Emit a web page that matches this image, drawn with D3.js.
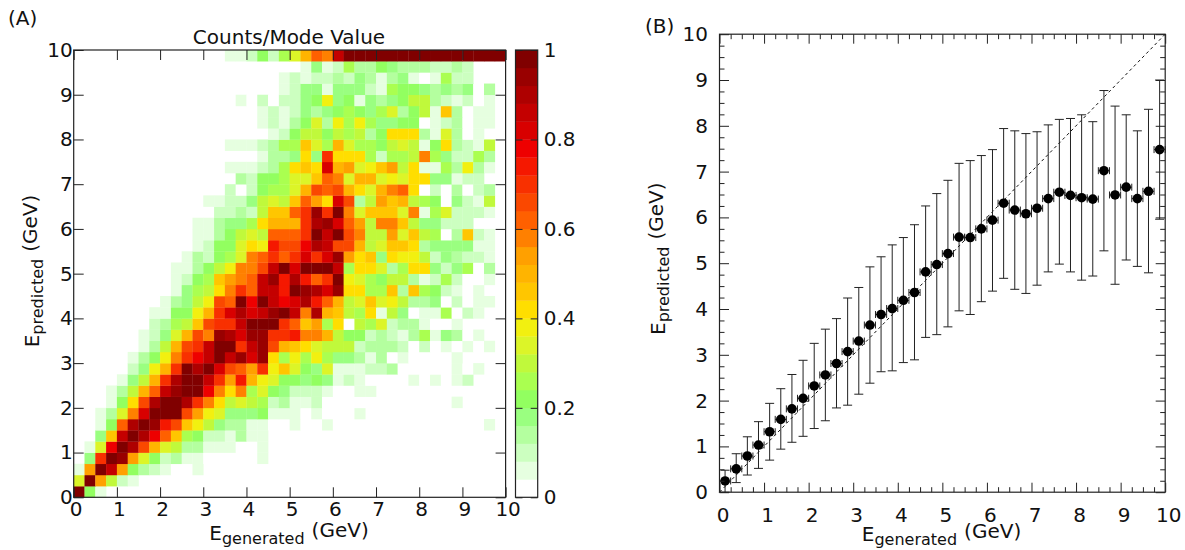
<!DOCTYPE html>
<html>
<head>
<meta charset="utf-8">
<script src="https://d3js.org/d3.v7.min.js"></script>
<style>
  body { margin: 0; background: #fff; }
  text { font-family: "DejaVu Sans", sans-serif; fill: #111; }
</style>
</head>
<body>
<div id="chart"></div>
<script>
// Panel A: counts / mode value in percent, one row per predicted-energy bin (bottom row first).
// A row starts at column firstBin[row]; anything outside the list is empty.
var firstBin = [0,0,0,1,1,2,2,2,3,3,4,5,5,6,6,7,7,8,9,9,9,10,11,11,11,13,12,14,15,14,17,14,18,17,17,15,19,19,21,14];
var ratioRows = [
  [98,22,6],
  [34,98,54,30,10,6],
  [6,54,98,86,54,22,14,10,6,0,0,6],
  [18,70,98,94,54,34,22,10,14,6,6,0,0,0,0,0,6],
  [6,34,78,98,90,66,50,34,30,14,14,6,6,6,0,0,6],
  [18,46,86,98,90,78,62,46,26,22,10,10,6,14,6,6],
  [6,22,62,90,98,94,74,66,46,38,30,18,14,14,6,6,0,0,6,0,0,6,0,0,0,0,0,0,0,0,0,0,0,0,0,0,6],
  [6,14,34,58,82,98,98,98,66,54,38,34,18,18,18,22,6,6,6,0,6,0,0,0,6],
  [6,22,42,66,90,98,98,90,70,58,42,30,34,30,26,10,14,6,6,10,0,0,0,0,0,0,0,0,0,0,0,0,6],
  [6,14,30,50,62,86,94,98,98,78,58,42,58,26,34,22,18,10,10,10,6,0,0,6,6],
  [6,18,30,50,70,90,98,98,86,70,54,74,50,38,34,22,22,18,22,18,6,10,6,0,0,0,0,6,0,6,0,6,10],
  [10,18,38,50,70,98,90,98,82,66,62,54,70,38,46,34,22,18,34,6,6,6,10,10,14,0,0,0,0,0,6,0,6],
  [6,14,22,38,58,70,78,86,98,86,94,82,94,42,26,38,26,38,26,18,18,14,6,14,0,6,0,0,0,0,6],
  [6,14,30,50,66,70,86,98,98,70,86,94,66,50,46,42,34,30,30,30,10,14,14,14,10,0,10,0,6,0,6,0,6],
  [6,10,18,34,50,66,58,94,90,82,94,94,70,70,74,58,58,50,30,22,22,10,14,10,6,14,26,6,18,14,0,6],
  [10,14,26,30,46,66,70,70,86,98,98,98,70,62,46,54,26,42,0,30,26,34,10,14,14,6,0,0,6],
  [6,6,22,22,38,50,70,82,90,82,86,94,98,86,58,90,50,46,30,26,42,6,30,18,0,6,6,26,0,10,6],
  [6,14,18,30,38,66,62,98,78,98,86,78,82,90,74,62,50,30,34,46,34,38,30,14,14,18,0,10,0,6,6],
  [6,18,26,30,42,58,70,62,86,86,74,98,94,90,82,94,42,42,26,26,46,14,46,26,22,10,6,0,6],
  [6,10,22,26,46,54,58,62,86,94,74,90,74,62,70,98,38,34,26,22,30,30,14,6,10,26,10,0,0,6],
  [6,6,14,22,30,38,58,58,66,86,98,82,98,98,98,86,26,42,42,34,14,26,42,42,18,10,18,26,0,14],
  [6,14,10,22,26,34,58,62,70,62,70,82,70,82,94,54,42,46,18,42,38,38,30,10,18,14,10,10,6],
  [6,10,22,22,34,42,38,74,66,66,78,90,86,66,66,50,30,34,46,46,42,14,18,18,18,18,6,6],
  [6,6,14,22,30,34,30,62,62,62,70,98,86,98,66,58,30,30,54,34,46,30,26,0,14,46,10,6],
  [6,6,14,18,18,26,42,50,50,50,70,90,94,82,62,54,30,58,58,46,30,18,18,10,10,10],
  [10,10,14,10,30,46,46,62,70,94,70,98,58,34,46,46,46,34,58,6,26,34,10,10,10,6],
  [6,6,10,10,18,30,34,30,46,62,54,42,82,66,14,30,54,46,50,30,26,22,0,18,10,6,30],
  [10,0,10,22,26,26,34,50,66,62,66,50,42,34,50,58,62,42,0,10,0,14,0,10,14],
  [14,10,22,22,26,34,34,46,62,58,34,50,50,34,38,34,42,42,18,18,6,10,10],
  [6,6,6,10,14,26,42,46,42,82,50,54,34,38,46,54,30,42,6,6,26,14,38,14,6],
  [6,14,14,18,42,18,70,42,42,42,26,10,26,26,30,58,26,18,10,10,26,14],
  [6,6,6,10,14,26,26,46,34,26,50,34,26,26,22,30,34,30,6,22,42,14,10,6,30],
  [6,10,22,30,30,22,30,26,30,14,22,42,42,42,14,6,34,14,0,6],
  [6,10,6,14,22,34,14,38,26,38,26,18,18,22,22,0,6,10,14,0,6,6],
  [6,10,6,10,18,14,18,22,26,22,18,26,34,14,22,30,6,46,14,0,6,6],
  [6,0,10,0,10,10,18,22,38,18,22,6,18,14,18,22,30,30,14,10,6,10,0,6],
  [6,10,18,18,6,18,18,18,10,6,26,22,22,18,14,18,14,18,0,14],
  [6,10,6,10,10,14,10,18,14,6,14,18,6,0,6,26,10,10],
  [6,18,6,10,26,14,14,22,18,14,14,14,10,10,14,10],
  [6,6,10,22,10,26,34,50,62,58,86,98,98,98,98,98,98,98,98,98,98,98,98,98,98,98]
];
var paletteColors = ['#ffffff','#e6ffe0','#ccffc0','#b4ff9f','#9aff80','#92ff60','#aaff50','#c0f93b','#dcf528','#f2f010',
  '#ffde00','#ffc600','#ffb400','#ffa000','#ff8000','#ff6000','#fa4800','#f83000','#f51800','#ee0000',
  '#d80000','#c40000','#ae0000','#990000','#800000'];
var binWidth = 0.25;
var energyTicks = [0,1,2,3,4,5,6,7,8,9,10];
var barTicks = [0,0.2,0.4,0.6,0.8,1];

// Panel B: profile of the same histogram
var genEnergy = [0.125,0.375,0.625,0.875,1.125,1.375,1.625,1.875,2.125,2.375,2.625,2.875,3.125,3.375,3.625,3.875,4.125,4.375,4.625,4.875,
  5.125,5.375,5.625,5.875,6.125,6.375,6.625,6.875,7.125,7.375,7.625,7.875,8.125,8.375,8.625,8.875,9.125,9.375,9.625,9.875];
var predMean = [0.245,0.51,0.79,1.03,1.32,1.59,1.82,2.05,2.32,2.56,2.81,3.07,3.30,3.65,3.88,4.01,4.19,4.36,4.81,4.97,
  5.21,5.57,5.56,5.75,5.94,6.31,6.16,6.08,6.20,6.41,6.55,6.48,6.43,6.40,7.02,6.49,6.66,6.41,6.57,7.48];
var predHigh = [0.48,0.84,1.21,1.54,1.94,2.26,2.57,2.88,3.25,3.56,3.79,4.24,4.47,4.92,5.14,5.40,5.56,5.84,6.25,6.52,
  6.81,7.18,7.24,7.35,7.48,7.94,7.89,7.83,7.87,8.02,8.14,8.16,8.24,8.09,8.77,8.43,8.24,7.89,8.36,9.0];
var predLow = [0,0.21,0.375,0.52,0.70,0.94,1.09,1.22,1.39,1.56,1.84,1.90,2.14,2.38,2.63,2.65,2.83,2.89,3.38,3.44,
  3.61,3.96,3.88,4.16,4.39,4.67,4.43,4.34,4.52,4.81,4.98,4.81,4.63,4.72,5.27,4.54,5.07,4.93,4.79,5.96];
var minorTicks = d3.range(0, 10.01, 0.25).filter(function(d){ return d % 1 != 0 });

var svg = d3.select('#chart').append('svg')
    .attr('width', 1185)
    .attr('height', 550);

var colorScale = d3.scaleQuantize().domain([0, 100]).range(paletteColors);

// E_<sub> (GeV) label, rotated for the y axes
function axisLabel(x, y, sub, rotate){
    var t = svg.append('text')
        .attr('text-anchor', 'middle')
        .attr('font-size', 20)
        .attr('transform', 'translate(' + x + ',' + y + ')' + (rotate ? ' rotate(-90)' : ''));
    t.append('tspan').text('E');
    t.append('tspan').attr('font-size', 16).attr('dy', 4).text(sub);
    t.append('tspan').attr('dy', -6.5).attr('dx', 7).text('(GeV)');
}

function drawTicks(g, axis, transform, fontSize, labelShift){
    var a = g.append('g').attr('transform', transform).call(axis);
    a.select('.domain').remove();
    a.selectAll('line').attr('stroke', '#222');
    a.selectAll('text').attr('font-size', fontSize).attr('dx', labelShift);
    return a;
}

/* (A) heat map */
var xA = d3.scaleLinear().domain([0, 10]).range([73.7, 505.6]);
var yA = d3.scaleLinear().domain([0, 10]).range([497.3, 50]);
var panelA = svg.append('g');

ratioRows.forEach(function(row, r){
    panelA.selectAll('.row' + r)
        .data(row)
        .join('rect')
        .attr('x', function(d, i){ return xA((firstBin[r] + i) * binWidth) })
        .attr('y', yA((r + 1) * binWidth))
        .attr('width', xA(binWidth) - xA(0) + 0.3)
        .attr('height', yA(0) - yA(binWidth) + 0.3)
        .attr('fill', function(d){ return colorScale(d) });
});

var tickA = 10;
drawTicks(panelA, d3.axisBottom(xA).tickValues(energyTicks).tickFormat(d3.format('d')).tickSizeInner(-tickA).tickPadding(4.5), 'translate(0,497.3)', 20, 2);
drawTicks(panelA, d3.axisLeft(yA).tickValues(energyTicks).tickFormat(d3.format('d')).tickSizeInner(-tickA).tickPadding(1), 'translate(73.7,0)', 20, 0);
drawTicks(panelA, d3.axisTop(xA).tickValues(energyTicks).tickFormat('').tickSizeInner(-tickA), 'translate(0,50)', 20, 0);
drawTicks(panelA, d3.axisRight(yA).tickValues(energyTicks).tickFormat('').tickSizeInner(-tickA), 'translate(505.6,0)', 20, 0);

panelA.append('rect')
    .attr('x', xA(0)).attr('y', yA(10))
    .attr('width', xA(10) - xA(0)).attr('height', yA(0) - yA(10))
    .attr('fill', 'none').attr('stroke', '#222').attr('stroke-width', 1.2);

svg.append('text').attr('x', 289).attr('y', 44).attr('text-anchor', 'middle').attr('font-size', 20).text('Counts/Mode Value');
svg.append('text').attr('x', 8).attr('y', 25).attr('font-size', 20).text('(A)');
axisLabel(289, 539.5, 'generated', false);
axisLabel(39, 271, 'predicted', true);

/* colour bar */
var barX = d3.scaleLinear().domain([0, 1]).range([515.5, 537.7]);
var barY = d3.scaleLinear().domain([0, 1]).range([497.3, 50]);
var bandSize = 1 / paletteColors.length;

panelA.selectAll('.band')
    .data(paletteColors)
    .join('rect')
    .attr('x', barX(0))
    .attr('y', function(d, i){ return barY((i + 1) * bandSize) })
    .attr('width', barX(1) - barX(0))
    .attr('height', barY(0) - barY(bandSize) + 0.3)
    .attr('fill', function(d){ return d });

drawTicks(panelA, d3.axisRight(barY).tickValues(barTicks).tickFormat(d3.format('~g')).tickSizeInner(-7).tickPadding(6), 'translate(537.7,0)', 20, 0);
drawTicks(panelA, d3.axisLeft(barY).tickValues(barTicks).tickFormat('').tickSizeInner(-7), 'translate(515.5,0)', 20, 0);

panelA.append('rect')
    .attr('x', barX(0)).attr('y', barY(1))
    .attr('width', barX(1) - barX(0)).attr('height', barY(0) - barY(1))
    .attr('fill', 'none').attr('stroke', '#222').attr('stroke-width', 1.2);

/* (B) profile with error bars */
var xB = d3.scaleLinear().domain([0, 10]).range([719.5, 1165.2]);
var yB = d3.scaleLinear().domain([0, 10]).range([492.2, 34.2]);
var panelB = svg.append('g');

panelB.append('line')
    .attr('x1', xB(0)).attr('y1', yB(0))
    .attr('x2', xB(10)).attr('y2', yB(10))
    .attr('stroke', '#111').attr('stroke-width', 1).attr('stroke-dasharray', '3,3');

var capY = 4.5, capX = 3.5;

panelB.selectAll('.yerr')
    .data(genEnergy)
    .join('path')
    .attr('fill', 'none').attr('stroke', '#222').attr('stroke-width', 1)
    .attr('d', function(d, i){
        var px = xB(d);
        return 'M' + (px - capY) + ',' + yB(predHigh[i]) + 'H' + (px + capY)
            + 'M' + px + ',' + yB(predHigh[i]) + 'V' + yB(predLow[i])
            + 'M' + (px - capY) + ',' + yB(predLow[i]) + 'H' + (px + capY);
    });

panelB.selectAll('.xerr')
    .data(genEnergy)
    .join('path')
    .attr('fill', 'none').attr('stroke', '#222').attr('stroke-width', 1)
    .attr('d', function(d, i){
        var py = yB(predMean[i]), left = xB(d - binWidth / 2), right = xB(d + binWidth / 2);
        return 'M' + left + ',' + (py - capX) + 'V' + (py + capX)
            + 'M' + left + ',' + py + 'H' + right
            + 'M' + right + ',' + (py - capX) + 'V' + (py + capX);
    });

panelB.selectAll('.dot')
    .data(genEnergy)
    .join('circle')
    .attr('cx', function(d){ return xB(d) })
    .attr('cy', function(d, i){ return yB(predMean[i]) })
    .attr('r', 4.8)
    .attr('fill', '#000');

var major = 9.5, minor = 5;
var sidesB = [[d3.axisBottom, xB, 'translate(0,492.2)'], [d3.axisTop, xB, 'translate(0,34.2)'],
              [d3.axisLeft, yB, 'translate(719.5,0)'], [d3.axisRight, yB, 'translate(1165.2,0)']];
sidesB.forEach(function(s, i){
    var ax = s[0](s[1]).tickValues(energyTicks).tickSizeInner(-major).tickSizeOuter(0);
    if (i == 0) ax.tickFormat(d3.format('d')).tickPadding(15.3);
    else if (i == 2) ax.tickFormat(d3.format('d')).tickPadding(11.5);
    else ax.tickFormat('');
    drawTicks(panelB, ax, s[2], 20, i == 0 ? 3 : 0);
    var ax2 = s[0](s[1]).tickValues(minorTicks).tickFormat('').tickSizeInner(-minor).tickSizeOuter(0);
    drawTicks(panelB, ax2, s[2], 20, 0);
});

panelB.append('rect')
    .attr('x', xB(0)).attr('y', yB(10))
    .attr('width', xB(10) - xB(0)).attr('height', yB(0) - yB(10))
    .attr('fill', 'none').attr('stroke', '#222').attr('stroke-width', 1.2);

svg.append('text').attr('x', 645).attr('y', 33).attr('font-size', 20).text('(B)');
axisLabel(941.5, 540.5, 'generated', false);
axisLabel(665, 258.7, 'predicted', true);
</script>
</body>
</html>
